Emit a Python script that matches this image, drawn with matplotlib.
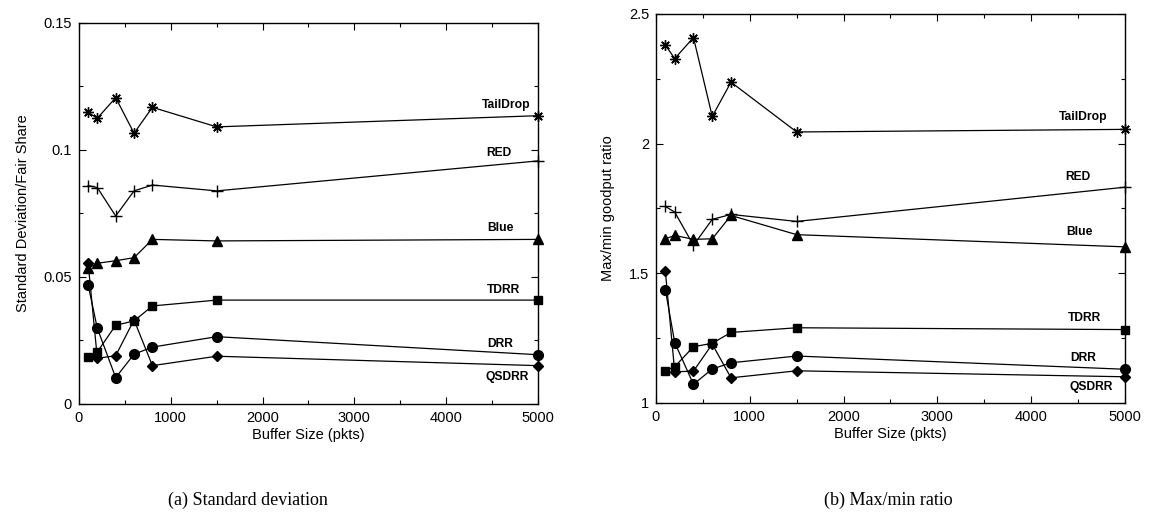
import matplotlib
matplotlib.use("Agg")
import matplotlib.pyplot as plt
from matplotlib.ticker import MultipleLocator

buffer_sizes = [100, 200, 400, 600, 800, 1500, 5000]
schemes = ["TailDrop", "RED", "Blue", "TDRR", "DRR", "QSDRR"]

# standard deviation / fair share
std_taildrop = [0.1148, 0.1125, 0.1206, 0.1066, 0.1168, 0.1091, 0.1135]
std_red = [0.0860, 0.0852, 0.0740, 0.0839, 0.0862, 0.0839, 0.0957]
std_blue = [0.0534, 0.0554, 0.0564, 0.0576, 0.0648, 0.0642, 0.0648]
std_tdrr = [0.0186, 0.0205, 0.0310, 0.0327, 0.0386, 0.0409, 0.0409]
std_drr = [0.0469, 0.0298, 0.0104, 0.0196, 0.0224, 0.0265, 0.0194]
std_qsdrr = [0.0554, 0.0180, 0.0190, 0.0331, 0.0151, 0.0188, 0.0151]

# max/min goodput ratio
ratio_taildrop = [2.380, 2.328, 2.409, 2.105, 2.237, 2.045, 2.055]
ratio_red = [1.758, 1.736, 1.608, 1.708, 1.727, 1.700, 1.832]
ratio_blue = [1.633, 1.646, 1.631, 1.633, 1.723, 1.649, 1.602]
ratio_tdrr = [1.124, 1.140, 1.217, 1.230, 1.272, 1.290, 1.283]
ratio_drr = [1.437, 1.233, 1.072, 1.131, 1.155, 1.181, 1.130]
ratio_qsdrr = [1.509, 1.120, 1.123, 1.227, 1.097, 1.124, 1.101]

markers = {
    "TailDrop": dict(marker=(8, 2, 0), markersize=7.5, markeredgewidth=1.0),
    "RED": dict(marker="+", markersize=8, markeredgewidth=1.0),
    "Blue": dict(marker="^", markersize=7),
    "TDRR": dict(marker="s", markersize=5.5),
    "DRR": dict(marker="o", markersize=7),
    "QSDRR": dict(marker="D", markersize=5),
}

# label offsets (points) from the last point of each curve
label_off_a = {"TailDrop": (-23, 8), "RED": (-28, 6), "Blue": (-27, 8),
               "TDRR": (-25, 7), "DRR": (-27, 8), "QSDRR": (-22, -8)}
label_off_b = {"TailDrop": (-30, 9), "RED": (-34, 7), "Blue": (-33, 11),
               "TDRR": (-29, 8), "DRR": (-30, 8), "QSDRR": (-24, -7)}

plt.rcParams["font.family"] = ["Liberation Sans", "DejaVu Sans"]

fig = plt.figure(figsize=(11.51, 5.31), dpi=100)
ax1 = fig.add_axes([0.0686, 0.2392, 0.3988, 0.7175])
ax2 = fig.add_axes([0.5699, 0.2411, 0.4075, 0.7326])


def draw(ax, series, offsets, ylim, ymajor, yminor, ylabel, yfmt):
    for name, vals in zip(schemes, series):
        ax.plot(buffer_sizes, vals, color="black", linewidth=0.9,
                markerfacecolor="black", markeredgecolor="black",
                clip_on=False, zorder=3, **markers[name])
        ax.annotate(name, (buffer_sizes[-1], vals[-1]),
                    xytext=offsets[name], textcoords="offset points",
                    ha="center", va="center", fontsize=8.7, fontweight="bold")
    ax.set_xlim(0, 5000)
    ax.set_ylim(*ylim)
    ax.xaxis.set_major_locator(MultipleLocator(1000))
    ax.xaxis.set_minor_locator(MultipleLocator(500))
    ax.yaxis.set_major_locator(MultipleLocator(ymajor))
    ax.yaxis.set_minor_locator(MultipleLocator(yminor))
    ax.yaxis.set_major_formatter(yfmt)
    ax.tick_params(which="both", direction="in", top=True, right=True,
                   labelsize=10.5, width=0.8)
    ax.tick_params(which="major", length=5, pad=5)
    ax.tick_params(which="minor", length=3)
    for sp in ax.spines.values():
        sp.set_linewidth(1.0)
    ax.set_xlabel("Buffer Size (pkts)", fontsize=10.5, labelpad=2)
    ax.set_ylabel(ylabel, fontsize=10.5, labelpad=10)


draw(ax1, [std_taildrop, std_red, std_blue, std_tdrr, std_drr, std_qsdrr],
     label_off_a, (0, 0.15), 0.05, 0.025, "Standard Deviation/Fair Share",
     lambda v, p: "0" if abs(v) < 1e-9 else f"{v:g}")
draw(ax2, [ratio_taildrop, ratio_red, ratio_blue, ratio_tdrr, ratio_drr, ratio_qsdrr],
     label_off_b, (1, 2.5), 0.5, 0.25, "Max/min goodput ratio",
     lambda v, p: f"{v:g}")

fig.text(248 / 1151, 1 - 500 / 531, "(a) Standard deviation", ha="center",
         va="center", fontsize=13, family="Liberation Serif")
fig.text(888 / 1151, 1 - 500 / 531, "(b) Max/min ratio", ha="center",
         va="center", fontsize=13, family="Liberation Serif")

fig.savefig("out.png", dpi=100)
